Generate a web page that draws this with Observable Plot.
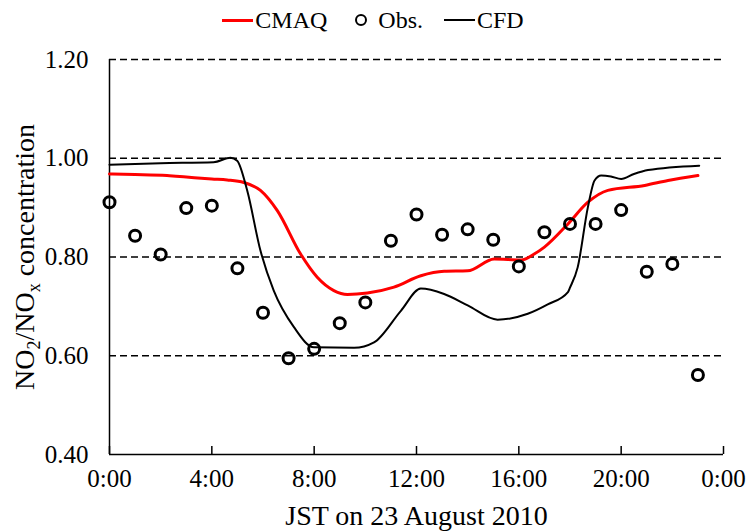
<!DOCTYPE html>
<html>
<head>
<meta charset="utf-8">
<script src="https://cdn.jsdelivr.net/npm/d3@7"></script>
<script src="https://cdn.jsdelivr.net/npm/@observablehq/plot@0.6"></script>
<style>
  body { margin: 0; background: #fff; font-family: "Liberation Serif", "Times New Roman", serif; }
  #legend { height: 40px; width: 746px; display: flex; justify-content: center; align-items: center; font-size: 24px; color: #000; }
  #legend .item { display: flex; align-items: center; }
  #legend .ln { display: inline-block; width: 31px; margin-right: 2px; }
  #legend .circ { display: inline-block; width: 8px; height: 8px; border: 2.6px solid #000; border-radius: 50%; margin-right: 11px; }
</style>
</head>
<body>
<div id="legend"></div>
<div id="chart"></div>
<script>
// ---- data ----
const seriesNames = ["CMAQ", "Obs.", "CFD"];
const seriesColors = ["#ff0000", "#000000", "#000000"];

const obsHours = [0,1,2,3,4,5,6,7,8,9,10,11,12,13,14,15,16,17,18,19,20,21,22,23];
const obsValues = [0.911,0.843,0.805,0.899,0.904,0.777,0.687,0.595,0.614,0.666,0.708,0.833,
                   0.886,0.845,0.856,0.835,0.781,0.850,0.867,0.867,0.895,0.770,0.786,0.561];

const cmaqHours = [0,1,2.25,3,4,4.6,5.25,5.9,6.56,7.47,8.12,8.77,9.3,10.08,11.12,12.17,13.08,14.0,15.04,16.09,16.6,17.0,17.92,18.7,19.48,20.92,21.83,23.0];
const cmaqValues = [0.968,0.967,0.965,0.962,0.958,0.956,0.951,0.935,0.894,0.806,0.759,0.732,0.724,0.727,0.739,0.762,0.771,0.772,0.796,0.794,0.806,0.820,0.867,0.911,0.935,0.945,0.955,0.965];

const cfdHours = [0,2,4.07,4.73,4.99,5.38,5.9,6.42,7.21,7.99,9.56,10.34,11.39,12.17,13.08,14.0,15.17,16.35,17.13,17.92,18.0,18.3,18.7,18.96,19.22,19.6,20.0,20.5,21.05,23.05];
const cfdValues = [0.987,0.990,0.992,1.001,0.995,0.935,0.813,0.732,0.658,0.617,0.616,0.627,0.691,0.736,0.725,0.702,0.673,0.685,0.704,0.729,0.738,0.779,0.901,0.955,0.965,0.963,0.958,0.968,0.976,0.985];

const xTicks = [0,4,8,12,16,20,24];
const yTicks = [0.4,0.6,0.8,1.0,1.2];
const gridY = [0.6,0.8,1.0,1.2];
const xTitle = "JST on 23 August 2010";
const yTitleParts = [["NO",false],["2",true],["/NO",false],["x",true],[" concentration",false]];

// ---- build tables ----
const obs = obsHours.map((h,i) => ({h, v: obsValues[i]}));
const cmaq = cmaqHours.map((h,i) => ({h, v: cmaqValues[i]}));
const cfd = cfdHours.map((h,i) => ({h, v: cfdValues[i]}));
const yTitle = yTitleParts.map(p => p[0]).join("");

// ---- legend ----
const legend = document.getElementById("legend");
seriesNames.forEach((name, i) => {
  const item = document.createElement("span");
  item.className = "item";
  item.style.marginRight = i === 0 ? "28px" : (i === 1 ? "21px" : "0");
  const sym = document.createElement("span");
  if (name === "Obs.") {
    sym.className = "circ";
  } else {
    sym.className = "ln";
    sym.style.height = i === 0 ? "3px" : "2px";
    sym.style.background = seriesColors[i];
  }
  const t = document.createElement("span");
  t.textContent = name;
  item.appendChild(sym);
  item.appendChild(t);
  legend.appendChild(item);
});

// ---- chart ----
const plot = Plot.plot({
  width: 746,
  height: 492,
  marginTop: 19,
  marginBottom: 78,
  marginLeft: 109,
  marginRight: 23,
  style: {fontFamily: "Liberation Serif, Times New Roman, serif", background: "white", color: "black", overflow: "visible"},
  x: {domain: [0, 24], label: null},
  y: {domain: [0.4, 1.2], label: null},
  marks: [
    Plot.ruleY(gridY, {stroke: "black", strokeWidth: 1.3, strokeDasharray: "7,4"}),
    Plot.ruleX([0], {stroke: "black", strokeWidth: 1.5}),
    Plot.ruleY([0.4], {stroke: "black", strokeWidth: 1.5}),
    Plot.axisX({ticks: xTicks, tickSize: -8, tickPadding: 23, strokeWidth: 1.5,
                tickFormat: h => `${h % 24}:00`, fontSize: 25, label: null}),
    Plot.axisY({ticks: yTicks, tickSize: 0, tickPadding: 21,
                tickFormat: d3.format(".2f"), fontSize: 25, label: null}),
    Plot.line(cmaq, {x: "h", y: "v", stroke: seriesColors[0], strokeWidth: 3, curve: "monotone-x"}),
    Plot.line(cfd, {x: "h", y: "v", stroke: seriesColors[2], strokeWidth: 2, curve: "monotone-x"}),
    Plot.dot(obs, {x: "h", y: "v", r: 5.5, stroke: seriesColors[1], strokeWidth: 3, fill: "none"}),
    Plot.text([xTitle], {text: d => d, frameAnchor: "bottom", dy: 70, lineAnchor: "bottom", fontSize: 28}),
    Plot.text([yTitle], {text: d => d, frameAnchor: "left", textAnchor: "middle", dx: -75.5, rotate: -90, lineAnchor: "bottom", fontSize: 28})
  ]
});
document.getElementById("chart").appendChild(plot);

// subscripts in the y title
d3.select(plot).selectAll("text").filter(function() { return this.textContent === yTitle; })
  .each(function() {
    const el = d3.select(this);
    el.text(null);
    let shifted = false;
    yTitleParts.forEach(([s, sub]) => {
      const ts = el.append("tspan").text(s);
      if (sub) { ts.attr("font-size", 18).attr("dy", 6); shifted = true; }
      else if (shifted) { ts.attr("dy", -6); shifted = false; }
    });
  });
</script>
</body>
</html>
